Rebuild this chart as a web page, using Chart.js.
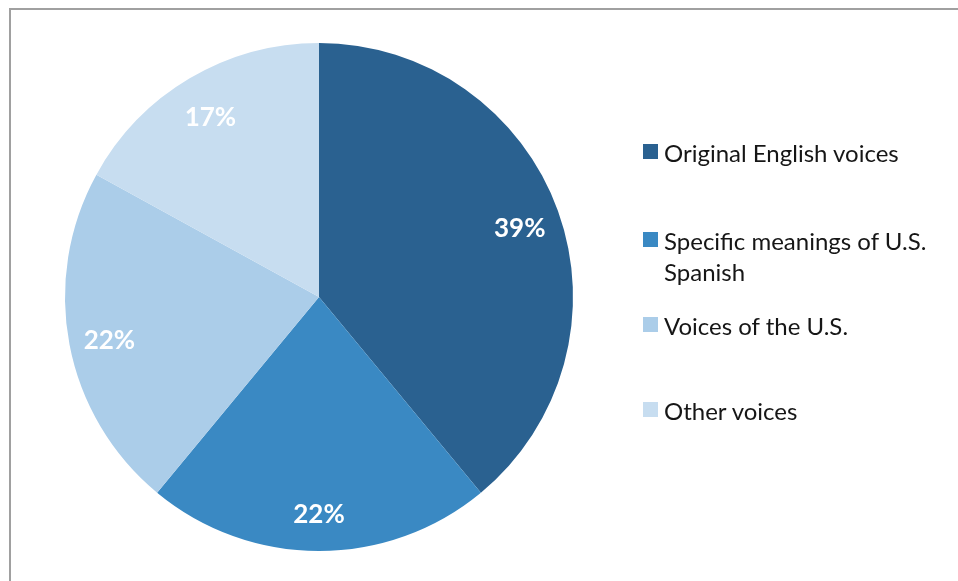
<!DOCTYPE html>
<html>
<head>
<meta charset="utf-8">
<script src="https://cdn.jsdelivr.net/npm/chart.js@4.4.1/dist/chart.umd.min.js"></script>
<style>
  html, body { margin: 0; padding: 0; background: #ffffff; }
  #wrap { position: relative; width: 958px; height: 581px; overflow: hidden; }
  #frame {
    position: absolute; left: 9px; top: 8px; right: -10px; bottom: -10px;
    border-left: 2px solid #a0a0a0; border-top: 2px solid #a0a0a0;
  }
  #grafico { position: absolute; left: 0; top: 0; }
  #leyenda { position: absolute; left: 643px; top: 0; font-family: Lato, "Open Sans", sans-serif; font-size: 24px; color: #161616; }
  .item { position: absolute; left: 0; display: flex; align-items: flex-start; width: 310px; }
  .caja { width: 15px; height: 15px; flex: none; margin-top: 0px; margin-right: 6px; }
  .texto { line-height: 31px; margin-top: -7px; }
</style>
</head>
<body>
<div id="wrap">
  <div id="frame"></div>
  <canvas id="grafico" width="958" height="581"></canvas>
  <div id="leyenda"></div>
</div>
<script>
const categorias = [
  "Original English voices",
  "Specific meanings of U.S. Spanish",
  "Voices of the U.S.",
  "Other voices",
];

const valores = [39, 22, 22, 17];

const etiquetas = ["39%", "22%", "22%", "17%"];

const colores = ["#2a6190", "#3a89c3", "#abcde9", "#c7ddf0"];

// posiciones verticales de la leyenda (px)
const topLeyenda = [144, 232, 317, 402];

/*
  =========================
     LEYENDA HTML
  =========================
*/
const leyenda = document.getElementById("leyenda");

categorias.forEach((cat, i) => {
  const item = document.createElement("div");
  item.className = "item";
  item.style.top = topLeyenda[i] + "px";

  const caja = document.createElement("div");
  caja.className = "caja";
  caja.style.background = colores[i];

  const texto = document.createElement("div");
  texto.className = "texto";
  texto.textContent = cat;

  item.appendChild(caja);
  item.appendChild(texto);
  leyenda.appendChild(item);
});

/*
  =========================
     ETIQUETAS DE PORCENTAJE
  =========================
*/
const etiquetasPlugin = {
  id: "etiquetasPorcentaje",
  afterDatasetsDraw(chart) {
    const ctx = chart.ctx;
    const meta = chart.getDatasetMeta(0);

    ctx.save();
    ctx.fillStyle = "#ffffff";
    ctx.font = "bold 26px Lato, 'Open Sans', sans-serif";
    ctx.textAlign = "center";
    ctx.textBaseline = "middle";

    meta.data.forEach((arc, i) => {
      const p = arc.getProps(["x", "y", "startAngle", "endAngle", "outerRadius"], true);
      const medio = (p.startAngle + p.endAngle) / 2;
      const r = p.outerRadius * 0.84;
      ctx.fillText(etiquetas[i], p.x + Math.cos(medio) * r, p.y + Math.sin(medio) * r + 4);
    });

    ctx.restore();
  },
};

const canvas = document.getElementById("grafico");

new Chart(canvas, {
  type: "pie",

  data: {
    labels: categorias,

    datasets: [
      {
        data: valores,

        backgroundColor: colores,

        borderWidth: 0,
      },
    ],
  },

  options: {
    responsive: false,

    animation: false,

    layout: {
      padding: { left: 65, top: 43, right: 385, bottom: 30 },
    },

    plugins: {
      legend: { display: false },

      tooltip: { enabled: false },
    },
  },

  plugins: [etiquetasPlugin],
});
</script>
</body>
</html>
